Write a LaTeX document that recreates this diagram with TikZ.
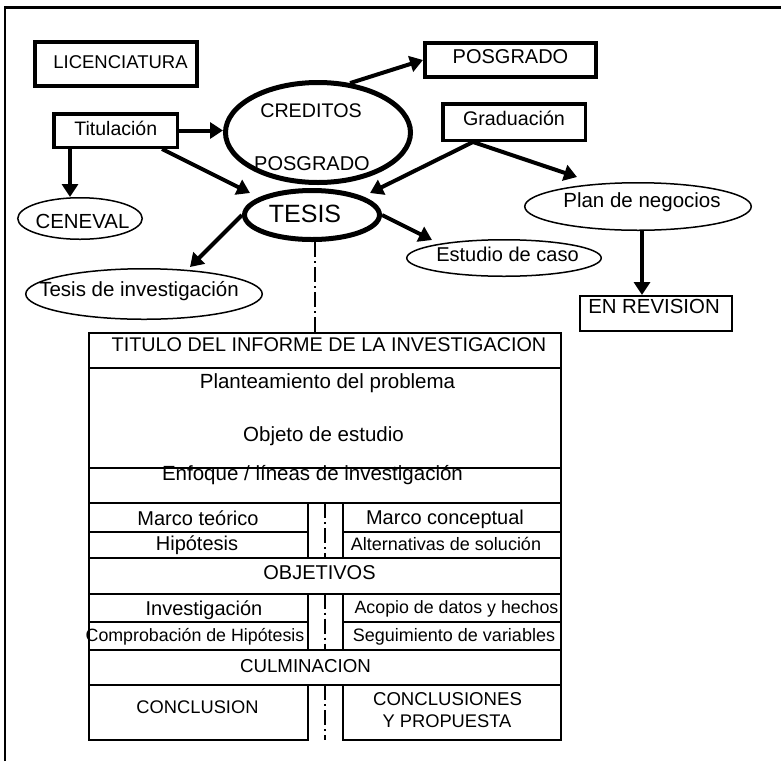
\documentclass[tikz,border=0pt]{standalone}
\usepackage{fontspec}
\setmainfont{Liberation Sans}
\usetikzlibrary{arrows.meta,shapes.geometric}
\newcommand{\fsz}[1]{\fontsize{#1pt}{#1pt}\selectfont}
\begin{document}
\begin{tikzpicture}[x=1pt,y=-1pt,
  lbl/.style={inner sep=0pt, anchor=base},
  box/.style={draw, rectangle, inner sep=0pt},
  ell/.style={draw, ellipse, inner sep=0pt},
  arr/.style={line width=4pt, -{Triangle[length=13pt,width=16pt]}},
  dd/.style={line width=2pt, dash pattern=on 15pt off 4pt on 2pt off 4pt},
  cell/.style={line width=2pt}
]
\fill[white] (0,0) rectangle (781,761);
\useasboundingbox (0,0) rectangle (781,761);
% frame
\draw[line width=2.5pt] (5,761) -- (5,7.5) -- (781,7.5);

% shapes
\node[box, line width=4pt, minimum width=162pt, minimum height=44pt] (lic) at (116,64) {};
\node[box, line width=3.5pt, minimum width=123.5pt, minimum height=33.5pt] (tit) at (115.5,130.5) {};
\node[box, line width=4pt, minimum width=171pt, minimum height=34pt] (posg) at (510.5,60) {};
\node[box, line width=3.5pt, minimum width=142.5pt, minimum height=36.5pt] (grad) at (514,122) {};
\node[box, line width=2pt, minimum width=152pt, minimum height=35pt] (rev) at (656,313.5) {};
\node[ell, line width=5pt, minimum width=185pt, minimum height=100pt] (cred) at (318,132.5) {};
\node[ell, line width=5pt, minimum width=135pt, minimum height=49pt] (tesis) at (312,215) {};
\node[ell, line width=1.5pt, minimum width=124.5pt, minimum height=41.5pt] (cen) at (80,218.5) {};
\node[ell, line width=1.5pt, minimum width=236.5pt, minimum height=50.5pt] (tinv) at (144,294) {};
\node[ell, line width=1.5pt, minimum width=226.5pt, minimum height=47.5pt] (plan) at (638,206.5) {};
\node[ell, line width=1.5pt, minimum width=194.5pt, minimum height=36.5pt] (est) at (504,258) {};

% labels of shapes
\node[lbl, font=\fsz{18.5}] (licT) at (120.5,68.5) {LICENCIATURA};
\node[lbl, font=\fsz{19.5}] (titT) at (115.8,135) {Titulación};
\node[lbl, font=\fsz{19.7}] (credT1) at (311,117.5) {CREDITOS};
\node[lbl, font=\fsz{20}] (credT2) at (312,170.5) {POSGRADO};
\node[lbl, font=\fsz{25}] (tesisT) at (305,222.5) {TESIS};
\node[lbl, font=\fsz{20.4}] (cenT) at (82.5,228.3) {CENEVAL};
\node[lbl, font=\fsz{20.5}] (tinvT) at (139,296) {Tesis de investigación};
\node[lbl, font=\fsz{20}] (posgT) at (510.5,63.5) {POSGRADO};
\node[lbl, font=\fsz{19.7}] (gradT) at (514,125) {Graduación};
\node[lbl, font=\fsz{20.5}] (planT) at (642,207.3) {Plan de negocios};
\node[lbl, font=\fsz{20}] (estT) at (507.5,261.7) {Estudio de caso};
\node[lbl, font=\fsz{20.4}] (revT) at (654,313.3) {EN REVISION};

% arrows
\coordinate (a1) at ([xshift=18pt]tit.south west);
\coordinate (a2) at ([xshift=-17pt]tit.south east);
\coordinate (g1) at ([xshift=-41pt]grad.south);
\coordinate (p1) at ([xshift=4pt]plan.south);
\draw[arr] (cred.57) -- (posg.west);
\draw[arr] (tit.east) -- (tit.east -| cred.west);
\draw[arr] (a1) -- (a1 |- cen.north);
\draw[arr] (a2) -- ([xshift=-62pt,yshift=22pt]tesis.center);
\draw[arr] (g1) -- ([xshift=58pt,yshift=22pt]tesis.center);
\draw[arr] (g1) -- ([xshift=-61pt,yshift=29.5pt]plan.center);
\draw[arr] (tesis.west) -- ([xshift=46pt,yshift=27pt]tinv.center);
\draw[arr] (tesis.east) -- ([xshift=-72pt,yshift=18pt]est.center);
\draw[arr] (p1) -- (p1 |- rev.north);

% dash-dot from TESIS to the table
\coordinate (tabtop) at (315,333);
\draw[dd] ([xshift=3pt]tesis.south) -- (tabtop);

% table
\draw[cell] (89,333) rectangle (561,367.7);
\draw[cell] (89,367.7) rectangle (561,467.8);
\draw[cell] (89,467.8) rectangle (561,503.3);
\draw[cell] (89,503.3) rectangle (307.7,532) (89,532) rectangle (307.7,558);
\draw[cell] (343.3,503.3) rectangle (561,532) (343.3,532) rectangle (561,558);
\draw[cell] (89,558) rectangle (561,593.5);
\draw[cell] (89,593.5) rectangle (307.7,621.8) (89,621.8) rectangle (307.7,649.7);
\draw[cell] (343.3,593.5) rectangle (561,621.8) (343.3,621.8) rectangle (561,649.7);
\draw[cell] (89,649.7) rectangle (561,685.3);
\draw[cell] (89,685.3) rectangle (307.7,739.7);
\draw[cell] (343.3,685.3) rectangle (561,739.7);
\draw[dd] (325.3,503.3) -- (325.3,558);
\draw[dd] (325.3,593.5) -- (325.3,649.7);
\draw[dd] (325.3,685.3) -- (325.3,739.7);

% table texts
\node[lbl, font=\fsz{19.8}] (t1) at (329,351.8) {TITULO DEL INFORME DE LA INVESTIGACION};
\node[lbl, font=\fsz{20.5}] (t2) at (327.5,388.3) {Planteamiento del problema};
\node[lbl, font=\fsz{20.5}] (t3) at (323.5,441.7) {Objeto de estudio};
\node[lbl, font=\fsz{20.5}] (t4) at (312.5,480) {Enfoque / líneas de investigación};
\node[lbl, font=\fsz{20}] (t5) at (198,525) {Marco teórico};
\node[lbl, font=\fsz{20}] (t6) at (197,550.7) {Hipótesis};
\node[lbl, font=\fsz{20}] (t7) at (445,524) {Marco conceptual};
\node[lbl, font=\fsz{18}] (t8) at (446,550) {Alternativas de solución};
\node[lbl, font=\fsz{20}] (t9) at (319.5,579) {OBJETIVOS};
\node[lbl, font=\fsz{20}] (t10) at (204,615) {Investigación};
\node[lbl, font=\fsz{17.8}] (t11) at (195,641.7) {Comprobación de Hipótesis};
\node[lbl, font=\fsz{17.8}] (t12) at (456.5,613.3) {Acopio de datos y hechos};
\node[lbl, font=\fsz{18}] (t13) at (454,641.7) {Seguimiento de variables};
\node[lbl, font=\fsz{18.7}] (t14) at (305.5,672.5) {CULMINACION};
\node[lbl, font=\fsz{18.3}] (t15) at (197.5,713.3) {CONCLUSION};
\node[lbl, font=\fsz{18.6}] (t16) at (447.5,705.7) {CONCLUSIONES};
\node[lbl, font=\fsz{18.3}] (t17) at (447,727.3) {Y PROPUESTA};
\end{tikzpicture}
\end{document}
